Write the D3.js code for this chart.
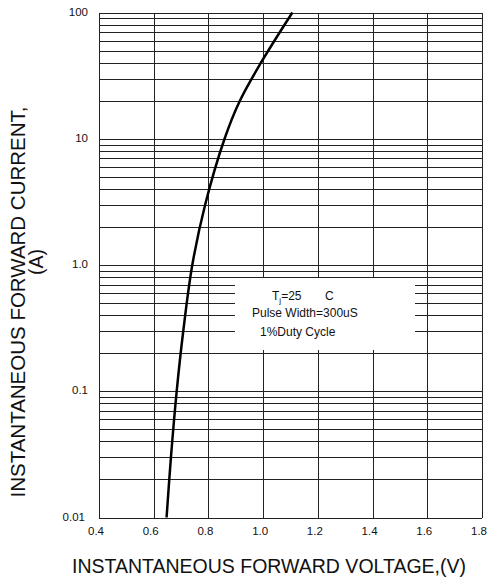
<!DOCTYPE html>
<meta charset="utf-8">
<style>
body { margin: 0; background: #fff; }
svg { display: block; font-family: "Liberation Sans", Arial, sans-serif; }
.grid line { stroke: #222; stroke-width: 1; shape-rendering: crispEdges; }
.tick-label { font-size: 11.5px; fill: #111; }
.axis-title { font-size: 19.5px; fill: #111; }
.legend text { font-size: 12px; fill: #111; }
</style>
<body>
<script src="https://cdn.jsdelivr.net/npm/d3@7"></script>
<script>
// data
var currentTicks = [0.01, 0.1, 1, 10, 100];
var currentLabels = ["0.01", "0.1", "1.0", "10", "100"];
var voltageTicks = [0.4, 0.6, 0.8, 1.0, 1.2, 1.4, 1.6, 1.8];
var voltageLabels = ["0.4", "0.6", "0.8", "1.0", "1.2", "1.4", "1.6", "1.8"];

var curveVoltage = [0.647, 0.663, 0.684, 0.708, 0.741, 0.788, 0.859, 0.915, 0.992, 1.107];
var curveCurrent = [0.01, 0.03, 0.1, 0.3, 1, 3, 10, 20, 40, 100];

var legendLines = ["Pulse Width=300uS", "1%Duty Cycle"];

var W = 487, H = 578;
var plotL = 99, plotR = 482, plotT = 12.5, plotB = 517.5;

var svg = d3.select("body").append("svg")
    .attr("width", W)
    .attr("height", H);

var x = d3.scaleLinear().domain([0.4, 1.8]).range([plotL, plotR]);
var y = d3.scaleLog().domain([0.01, 100]).range([plotB, plotT]);

// grid
var grid = svg.append("g").attr("class", "grid");
grid.selectAll(".h")
  .data(y.ticks())
  .enter().append("line")
    .attr("x1", plotL).attr("x2", plotR)
    .attr("y1", function(d) { return Math.round(y(d)); })
    .attr("y2", function(d) { return Math.round(y(d)); });
grid.selectAll(".v")
  .data(voltageTicks)
  .enter().append("line")
    .attr("x1", function(d) { return Math.round(x(d)); })
    .attr("x2", function(d) { return Math.round(x(d)); })
    .attr("y1", Math.round(plotT)).attr("y2", Math.round(plotB));

// legend box hides the grid behind it
var legend = svg.append("g").attr("class", "legend");
legend.append("rect")
  .attr("x", 235).attr("y", 278)
  .attr("width", 180).attr("height", 72)
  .attr("fill", "#fff");

var l1 = legend.append("text").attr("x", 272).attr("y", 300);
l1.append("tspan").text("T");
l1.append("tspan").attr("dy", 3).attr("font-size", "8px").text("j");
l1.append("tspan").attr("dy", -3).text("=25");
l1.append("tspan").attr("x", 325).text("C");

legend.selectAll(".ll")
  .data(legendLines)
  .enter().append("text")
    .attr("x", function(d, i) { return i == 0 ? 252 : 260; })
    .attr("y", function(d, i) { return 317 + i * 19; })
    .text(function(d) { return d; });

// curve
var line = d3.line()
    .x(function(d, i) { return x(curveVoltage[i]); })
    .y(function(d) { return y(d); })
    .curve(d3.curveCatmullRom.alpha(0.5));

svg.append("path")
  .datum(curveCurrent)
  .attr("fill", "none")
  .attr("stroke", "#000")
  .attr("stroke-width", 2.5)
  .attr("d", line);

// tick labels
svg.selectAll(".ylab")
  .data(currentTicks)
  .enter().append("text")
    .attr("class", "tick-label")
    .attr("x", function(d) { return d == 0.01 ? 85 : 88; })
    .attr("y", function(d) { return y(d) + 3; })
    .attr("text-anchor", "end")
    .text(function(d, i) { return currentLabels[i]; });

svg.selectAll(".xlab")
  .data(voltageTicks)
  .enter().append("text")
    .attr("class", "tick-label")
    .attr("x", function(d) { return x(d) - 3; })
    .attr("y", 535)
    .attr("text-anchor", "middle")
    .text(function(d, i) { return voltageLabels[i]; });

// axis titles
svg.append("text")
  .attr("class", "axis-title")
  .attr("x", 72).attr("y", 573)
  .text("INSTANTANEOUS FORWARD VOLTAGE,(V)");

svg.append("text")
  .attr("class", "axis-title")
  .attr("transform", "translate(25,302) rotate(-90)")
  .attr("text-anchor", "middle")
  .style("font-size", "20.5px")
  .text("INSTANTANEOUS FORWARD CURRENT,");

svg.append("text")
  .attr("class", "axis-title")
  .attr("transform", "translate(43,262) rotate(-90)")
  .attr("text-anchor", "middle")
  .text("(A)");
</script>
</body>
